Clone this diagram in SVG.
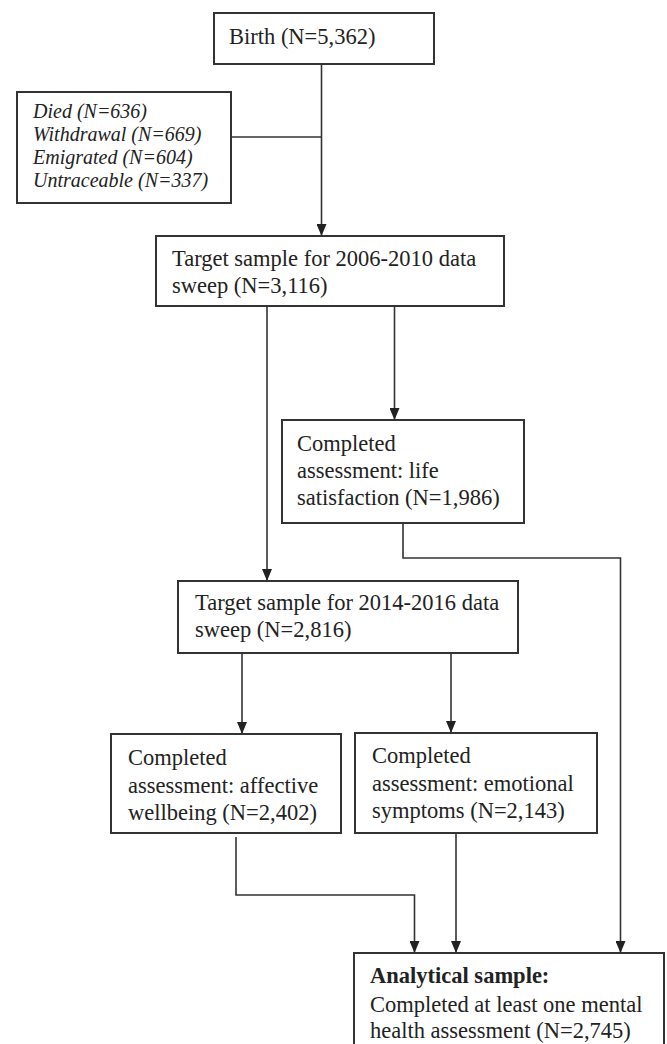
<svg xmlns="http://www.w3.org/2000/svg" width="667" height="1044" viewBox="0 0 667 1044">
<style>
.box{fill:#fff;stroke:#333;stroke-width:2}
.t{font-family:"Liberation Serif","Times New Roman",serif;font-size:22.5px;fill:#222}
.it{font-family:"Liberation Serif","Times New Roman",serif;font-size:20px;font-style:italic;fill:#222}
.b{font-weight:bold}
.ln{fill:none;stroke:#333;stroke-width:1.6}
</style>
<defs>
<marker id="arr" markerUnits="userSpaceOnUse" markerWidth="12" markerHeight="10" viewBox="0 0 12 10" refX="12" refY="5" orient="auto">
<path d="M0,0 L12,5 L0,10 z" fill="#222"/>
</marker>
</defs>
<rect width="667" height="1044" fill="#fff"/>
<g id="connectors">
<path class="ln" d="M321.5,64 V236" marker-end="url(#arr)"/>
<path class="ln" d="M231,137 H321.5"/>
<path class="ln" d="M267,306 V581" marker-end="url(#arr)"/>
<path class="ln" d="M394.5,306 V420" marker-end="url(#arr)"/>
<path class="ln" d="M403,523 V558 H620.5 V953" marker-end="url(#arr)"/>
<path class="ln" d="M242,653 V734" marker-end="url(#arr)"/>
<path class="ln" d="M451,653 V733" marker-end="url(#arr)"/>
<path class="ln" d="M236,837 V895 H414.5 V953" marker-end="url(#arr)"/>
<path class="ln" d="M456,833 V953" marker-end="url(#arr)"/>
</g>
<g id="birth">
<rect class="box" x="214" y="13" width="220" height="51"/>
<text class="t" x="229" y="44">Birth (N=5,362)</text>
</g>
<g id="excluded">
<rect class="box" x="17" y="92" width="214" height="111"/>
<text class="it" x="33" y="118">Died (N=636)</text>
<text class="it" x="33" y="141">Withdrawal  (N=669)</text>
<text class="it" x="33" y="164">Emigrated (N=604)</text>
<text class="it" x="33" y="187">Untraceable  (N=337)</text>
</g>
<g id="target2006">
<rect class="box" x="156" y="236" width="348" height="70"/>
<text class="t" x="172" y="266">Target sample for 2006-2010 data</text>
<text class="t" x="172" y="293">sweep (N=3,116)</text>
</g>
<g id="life">
<rect class="box" x="282" y="420" width="242" height="103"/>
<text class="t" x="297" y="451">Completed</text>
<text class="t" x="297" y="478">assessment: life</text>
<text class="t" x="297" y="505">satisfaction (N=1,986)</text>
</g>
<g id="target2014">
<rect class="box" x="178" y="581" width="340" height="72"/>
<text class="t" x="195" y="610">Target sample for 2014-2016 data</text>
<text class="t" x="195" y="637">sweep (N=2,816)</text>
</g>
<g id="affective">
<rect class="box" x="111" y="734" width="230" height="99"/>
<text class="t" x="128" y="765">Completed</text>
<text class="t" x="128" y="793">assessment: affective</text>
<text class="t" x="128" y="820">wellbeing (N=2,402)</text>
</g>
<g id="emotional">
<rect class="box" x="355" y="733" width="242" height="100"/>
<text class="t" x="372" y="763">Completed</text>
<text class="t" x="372" y="791">assessment: emotional</text>
<text class="t" x="372" y="818">symptoms (N=2,143)</text>
</g>
<g id="analytical">
<rect class="box" x="354" y="953" width="310" height="100"/>
<text class="t b" x="370" y="983">Analytical sample:</text>
<text class="t" x="370" y="1012">Completed at least one mental</text>
<text class="t" x="370" y="1038">health assessment (N=2,745)</text>
</g>
</svg>
